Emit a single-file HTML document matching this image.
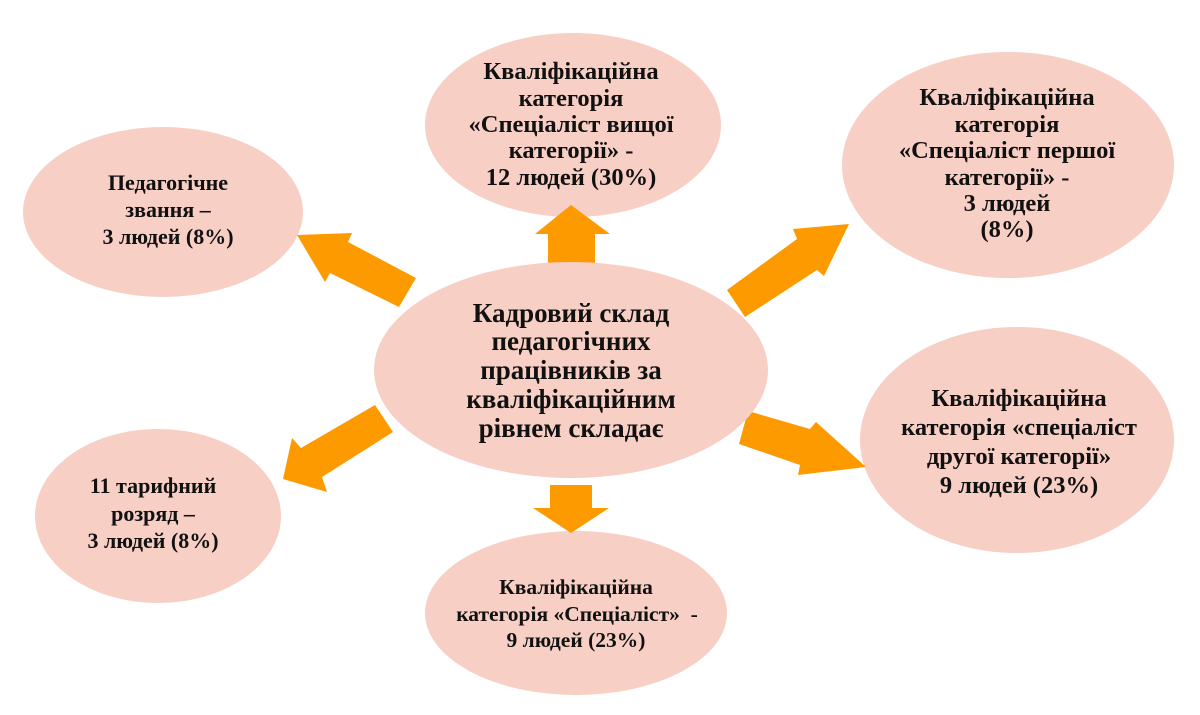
<!DOCTYPE html>
<html>
<head>
<meta charset="utf-8">
<style>
  html, body { margin:0; padding:0; background:#ffffff; }
  body { width:1200px; height:715px; overflow:hidden; }
  svg { display:block; }
  text { font-family: "Liberation Serif", "Noto Serif CJK SC", serif; font-weight:bold; fill:#111111; }
</style>
</head>
<body>
<svg width="1200" height="715" viewBox="0 0 1200 715" xmlns="http://www.w3.org/2000/svg">
  <g fill="#f7cfc4">
    <ellipse cx="163" cy="212" rx="140" ry="85"/>
    <ellipse cx="573" cy="125" rx="148" ry="92"/>
    <ellipse cx="1008" cy="165" rx="166" ry="113"/>
    <ellipse cx="1017" cy="440" rx="157" ry="113"/>
    <ellipse cx="158" cy="516" rx="123" ry="87"/>
    <ellipse cx="576" cy="613" rx="151" ry="82"/>
  </g>

  <g fill="#fd9a00">
    <!-- up arrow -->
    <polygon points="571,205 610,234 595,234 595,268 548,268 548,234 535,234"/>
    <!-- down arrow -->
    <polygon points="550,485 592,485 592,508 609,508 571,533 533,508 550,508"/>
    <!-- upper-left arrow -->
    <polygon points="297,235 352,233 348,242 416,278 399,307 330,273 325,282"/>
    <!-- lower-left arrow -->
    <polygon points="283,479 292,438 301,448 375,405 393,432 322,477 327,492"/>
    <!-- upper-right arrow -->
    <polygon points="849,224 824,276 817,270 745,317 727,290 797,239 793,229"/>
    <!-- lower-right arrow -->
    <polygon points="866,467 798,475 800,465 739,444 748,411 810,429 816,422"/>
  </g>

  <ellipse cx="571" cy="370" rx="197" ry="108" fill="#f7cfc4"/>

  <!-- center text -->
  <g text-anchor="middle" font-size="27">
    <text x="571" y="322">Кадровий склад</text>
    <text x="571" y="350">педагогічних</text>
    <text x="571" y="379">працівників за</text>
    <text x="571" y="408">кваліфікаційним</text>
    <text x="571" y="437">рівнем складає</text>
  </g>

  <!-- top-left -->
  <g text-anchor="middle" font-size="22">
    <text x="168" y="190">Педагогічне</text>
    <text x="168" y="217">звання –</text>
    <text x="168" y="244">3 людей (8%)</text>
  </g>

  <!-- top center -->
  <g text-anchor="middle" font-size="24.5">
    <text x="571" y="79">Кваліфікаційна</text>
    <text x="571" y="106">категорія</text>
    <text x="571" y="132">«Спеціаліст вищої</text>
    <text x="571" y="158">категорії» -</text>
    <text x="571" y="185">12 людей (30%)</text>
  </g>

  <!-- top right -->
  <g text-anchor="middle" font-size="24.5">
    <text x="1007" y="105">Кваліфікаційна</text>
    <text x="1007" y="132">категорія</text>
    <text x="1007" y="158">«Спеціаліст першої</text>
    <text x="1007" y="185">категорії» -</text>
    <text x="1007" y="211">3 людей</text>
    <text x="1007" y="237">(8%)</text>
  </g>

  <!-- right middle -->
  <g text-anchor="middle" font-size="24.5">
    <text x="1019" y="406">Кваліфікаційна</text>
    <text x="1019" y="435">категорія «спеціаліст</text>
    <text x="1019" y="464">другої категорії»</text>
    <text x="1019" y="493">9 людей (23%)</text>
  </g>

  <!-- bottom left -->
  <g text-anchor="middle" font-size="22">
    <text x="153" y="493">11 тарифний</text>
    <text x="153" y="521">розряд –</text>
    <text x="153" y="548">3 людей (8%)</text>
  </g>

  <!-- bottom center -->
  <g text-anchor="middle" font-size="21.5">
    <text x="576" y="594">Кваліфікаційна</text>
    <text x="577" y="621" xml:space="preserve">категорія «Спеціаліст»  -</text>
    <text x="576" y="647">9 людей (23%)</text>
  </g>
</svg>
</body>
</html>
